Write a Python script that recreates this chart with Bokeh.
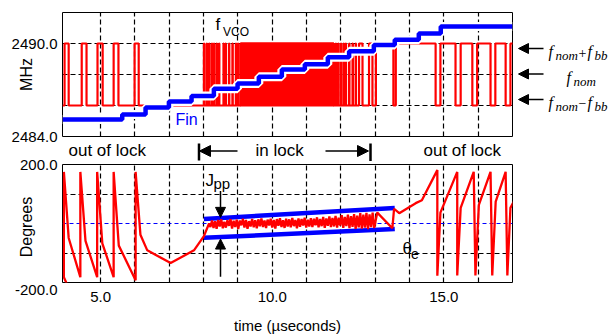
import math
import numpy as np
from bokeh.plotting import figure
from bokeh.layouts import column, row
from bokeh.models import FixedTicker, PrintfTickFormatter, Label, Arrow, NormalHead, Span, Range1d
from bokeh.embed import file_html
from bokeh.resources import INLINE

# ---------------- data ----------------
T_MIN, T_MAX = 3.89, 17.0
MHZ_MIN, MHZ_MAX = 2484.0, 2492.0
DEG_MIN, DEG_MAX = -200.0, 200.0

grid_t = [5, 6, 7, 8, 9, 10, 11, 12, 13, 14, 15, 16]
t_ticks = [5, 10, 15]
mhz_ticks = [2484, 2490]
mhz_grid = [2486, 2488, 2490]
deg_ticks = [-200, 200]
deg_grid = [-100, 100]

# f_vco square wave (high = f_nom + f_bb, low = f_nom - f_bb)
f_low, f_high = 2486.0, 2490.0
pulse_on = [3.95, 4.45, 4.91, 5.38, 5.99,
            8.01, 8.09, 8.16, 8.24, 8.30, 8.38, 8.45, 8.58, 8.64, 8.74, 8.84, 8.94, 9.00,
            9.08,
            11.85, 11.92, 12.00, 12.08, 12.14, 12.24, 12.34, 12.43, 12.53, 12.82,
            13.02, 13.60, 14.90, 15.49, 15.97, 16.50, 16.94]
pulse_off = [4.07, 4.59, 5.06, 5.52, 6.11,
             8.02, 8.10, 8.17, 8.25, 8.31, 8.39, 8.46, 8.59, 8.65, 8.75, 8.85, 8.95, 9.01,
             11.79,
             11.86, 11.93, 12.01, 12.09, 12.15, 12.25, 12.35, 12.44, 12.63, 12.92,
             13.53, 14.76, 15.34, 15.83, 16.36, 16.80, 17.30]
dense_band = [9.08, 11.79]   # toggling so fast that it fills

# Fin staircase
fin_t = [3.89, 5.63, 6.31, 6.99, 7.65, 8.30, 8.99, 9.61, 10.28, 10.95, 11.62,
         12.24, 12.96, 13.57, 14.27, 14.91]
fin_mhz = [2485.10, 2485.42, 2485.87, 2486.26, 2486.62, 2487.08, 2487.42, 2487.85,
           2488.32, 2488.66, 2489.12, 2489.50, 2489.90, 2490.25, 2490.65, 2491.10]

# phase error (degrees)
sawL_t = [4.07, 3.93, 3.93, 4.07, 4.41, 4.41, 4.56, 4.90, 4.90, 5.05, 5.38, 5.38,
          5.53, 6.02, 6.02, 6.16, 6.36, 7.04, 7.72, 8.01, 8.16]
sawL_deg = [-219, -182, 175, -49, -182, 175, -59, -182, 175, -67, -182, 175,
            -75, -192, 175, -38, -91, -134, -91, -43, 0]

jit_t0, jit_dt = 8.20, 0.045
jit_deg = [-12, 10, -15, 8, -18, 12, -10, 14, -16, 6,
           -14, 11, -8, 15, -17, 9, -12, 13, -19, 10,
           -6, 16, -14, 12, -18, 8, -10, 15, -13, 11,
           -16, 14, -9, 17, -12, 10, -15, 13, -7, 16,
           -14, 12, -17, 15, -8, 18, -12, 11, -15, 16,
           -10, 14, -13, 19, -9, 12, -16, 17, -11, 15,
           -7, 20, -14, 13, -10, 18, -12, 16, -6, 21,
           -13, 15, -9, 22, -15, 17, -8, 24, -12, 19,
           -10, 26, -14, 20, -7, 28, -15, 22, -9, 30,
           -16, 25, -11, 32, -18, 27, -13, 35, -17, 30,
           -14, 36, -19, 31, -12, 37, -15]

sawR_t = [13.06, 13.50, 13.55, 13.70, 14.18, 14.36, 14.81, 14.81, 14.90, 15.39, 15.39,
          15.49, 15.87, 15.92, 16.02, 16.36, 16.41, 16.51, 16.80, 16.85, 16.94, 17.18]
sawR_deg = [37, -16, 50, 35, 69, 79, 181, -177, 37, 175, -176,
            53, 175, -176, 63, 175, -176, 74, 175, -176, 53, 106]

band_t = [8.01, 13.57]
band_hi = [15.4, 52.8]
band_lo = [-48.6, -18.6]

# ---------------- layout (page pixels) ----------------
PAGE_W, PAGE_H = 611, 336
AX_W = 61                      # left column holding the y axes
FR_L, FR_R = 62, 512           # both panels' frame, left/right
P1_TOP, P1_BOT, P1_H = 12, 136, 141
STRIP_H = 20
P2_Y0 = P1_H + STRIP_H         # 161
P2_TOP, P2_BOT = 164, 289
P2_H = PAGE_H - P2_Y0
A1_H = 150                     # left axis column split

def X(px):
    return T_MIN + (px - FR_L) * (T_MAX - T_MIN) / (FR_R - FR_L)
def Y1(py):
    return MHZ_MIN + (P1_BOT - py) * (MHZ_MAX - MHZ_MIN) / (P1_BOT - P1_TOP)
def Y2(py):
    return DEG_MIN + (P2_BOT - py) * (DEG_MAX - DEG_MIN) / (P2_BOT - P2_TOP)
def IDX(px):
    return px
def IDY(py):
    return py

SANS = "Liberation Sans"
SERIF = "Liberation Serif"
BASE_FIX = 0.4   # labels land this many font-sizes below the requested baseline

def lab(p, Xf, Yf, text, px, py, size, font=SANS, color="black", align="left",
        style="normal"):
    p.add_layout(Label(x=Xf(px), y=Yf(py - BASE_FIX * size), text=text, text_font=font,
                       text_font_size=f"{size}px", text_color=color,
                       text_align=align, text_baseline="alphabetic",
                       text_font_style=style))

def arrow(p, Xf, Yf, x0, y0, x1, y1, head=10, width=1.5):
    end = NormalHead(size=head, fill_color="black", line_color="black", line_width=1) if head else None
    p.add_layout(Arrow(x_start=Xf(x0), y_start=Yf(y0), x_end=Xf(x1), y_end=Yf(y1),
                       end=end, line_color="black", line_width=width))

def axis_style(ax):
    ax.major_tick_in = 0
    ax.major_tick_out = 0
    ax.minor_tick_line_color = None
    ax.axis_line_color = None
    ax.major_label_text_font = SANS
    ax.major_label_text_font_size = "15px"
    ax.major_label_text_color = "black"
    ax.axis_label_text_font = SANS
    ax.axis_label_text_font_size = "16px"
    ax.axis_label_text_font_style = "normal"
    ax.axis_label_text_color = "black"
    ax.formatter = PrintfTickFormatter(format="%.1f")

def panel_style(p, y_grid):
    p.outline_line_color = "black"
    p.outline_line_width = 1
    p.outline_line_alpha = 1
    p.background_fill_color = "white"
    p.border_fill_color = "white"
    p.yaxis.visible = False
    p.xgrid.ticker = FixedTicker(ticks=grid_t)
    p.ygrid.ticker = FixedTicker(ticks=y_grid)
    for g in (p.xgrid, p.ygrid):
        g.grid_line_color = "black"
        g.grid_line_dash = "5 3"
        g.grid_line_width = 1.2
        g.grid_line_alpha = 1

def axis_fig(h, y_range, top, bottom, ticks, label, label_standoff):
    q = figure(width=AX_W, height=h, x_range=Range1d(0, 1), y_range=y_range,
               x_axis_type=None, output_backend="svg", toolbar_location=None,
               min_border_left=AX_W - 1, min_border_right=0,
               min_border_top=top, min_border_bottom=bottom)
    q.outline_line_color = None
    q.background_fill_color = "white"
    q.border_fill_color = "white"
    q.ygrid.visible = False
    axis_style(q.yaxis[0])
    q.yaxis.ticker = FixedTicker(ticks=ticks)
    q.yaxis.major_label_standoff = 3
    q.yaxis.axis_label = label
    q.yaxis.axis_label_standoff = label_standoff
    return q

def blank(w, h, x0, x1, y0, y1, bl=0, br=0, bt=0, bb=0):
    q = figure(width=w, height=h, x_range=Range1d(x0, x1), y_range=Range1d(y1, y0),
               x_axis_type=None, y_axis_type=None, output_backend="svg",
               toolbar_location=None, min_border_left=bl, min_border_right=br,
               min_border_top=bt, min_border_bottom=bb)
    q.outline_line_color = None
    q.background_fill_color = "white"
    q.border_fill_color = "white"
    return q

# ---------------- top panel ----------------
p1 = figure(width=FR_R + 1 - AX_W, height=P1_H, x_range=Range1d(T_MIN, T_MAX),
            y_range=Range1d(MHZ_MIN, MHZ_MAX),
            output_backend="svg", toolbar_location=None,
            min_border_left=FR_L - AX_W, min_border_right=1,
            min_border_top=P1_TOP, min_border_bottom=P1_H - P1_BOT)
panel_style(p1, mhz_grid)
p1.xaxis.visible = False

sq_t = [T_MIN]
sq_f = [f_low]
for a, b in zip(pulse_on, pulse_off):
    sq_t += [a, a, b, b]
    sq_f += [f_low, f_high, f_high, f_low]
if sq_t[-1] < T_MAX:
    sq_t.append(T_MAX)
    sq_f.append(f_low)

p1.quad(left=[dense_band[0]], right=[dense_band[1]], bottom=[f_low], top=[f_high],
        fill_color="red", line_color="red", line_width=2.2)
p1.line(sq_t, sq_f, line_color="red", line_width=2.2)

st_t = fin_t + [T_MAX]
st_f = fin_mhz + [fin_mhz[-1]]
p1.step(st_t, st_f, mode="after", line_color="white", line_width=9)
p1.step(st_t, st_f, mode="after", line_color="blue", line_width=4.5)

lab(p1, X, Y1, "f", 215, 31, 17)
lab(p1, X, Y1, "VCO", 222.5, 36, 12)
lab(p1, X, Y1, "Fin", 175, 125, 16, color="blue")

# right-hand annotations (frame aligned with the top panel's frame; page pixel coords)
pR = blank(PAGE_W - (FR_R + 1), P1_H, FR_R + 1, PAGE_W, P1_TOP, P1_BOT,
           bt=P1_TOP, bb=P1_H - P1_BOT)
for y_arrow in (48, 73.5, 99):
    arrow(pR, IDX, IDY, 543, y_arrow, 518, y_arrow, head=10, width=1.5)
lab(pR, IDX, IDY, "f", 548, 57, 16, font=SERIF, style="italic")
lab(pR, IDX, IDY, "nom", 555, 60.5, 13, font=SERIF, style="italic")
lab(pR, IDX, IDY, "+", 578, 58, 14, font=SERIF)
lab(pR, IDX, IDY, "f", 587, 57, 16, font=SERIF, style="italic")
lab(pR, IDX, IDY, "bb", 594, 60.5, 13, font=SERIF, style="italic")
lab(pR, IDX, IDY, "f", 566, 83, 16, font=SERIF, style="italic")
lab(pR, IDX, IDY, "nom", 573, 86.5, 13, font=SERIF, style="italic")
lab(pR, IDX, IDY, "f", 548, 108, 16, font=SERIF, style="italic")
lab(pR, IDX, IDY, "nom", 555, 111.5, 13, font=SERIF, style="italic")
lab(pR, IDX, IDY, "\u2212", 578, 108, 14, font=SERIF)
lab(pR, IDX, IDY, "f", 587, 108, 16, font=SERIF, style="italic")
lab(pR, IDX, IDY, "bb", 594, 111.5, 13, font=SERIF, style="italic")

# lock annotations strip between the panels (frame aligned with bottom panel's)
pS = blank(PAGE_W - AX_W, STRIP_H, FR_L, FR_R, P1_H, P2_Y0,
           bl=FR_L - AX_W, br=PAGE_W - FR_R)
lab(pS, IDX, IDY, "out of lock", 68, 157, 17)
lab(pS, IDX, IDY, "in lock", 255, 157, 17)
lab(pS, IDX, IDY, "out of lock", 423, 157, 17)
arrow(pS, IDX, IDY, 237, 150.5, 199, 150.5, head=11, width=1.5)
arrow(pS, IDX, IDY, 198.5, 143, 198.5, 160, head=0, width=2.5)
arrow(pS, IDX, IDY, 325, 150.5, 368, 150.5, head=11, width=1.5)
arrow(pS, IDX, IDY, 370, 143, 370, 161, head=0, width=2.5)

# ---------------- bottom panel ----------------
p2 = figure(width=PAGE_W - AX_W, height=P2_H, x_range=p1.x_range,
            y_range=Range1d(DEG_MIN, DEG_MAX),
            output_backend="svg", toolbar_location=None,
            min_border_left=FR_L - AX_W, min_border_right=PAGE_W - FR_R,
            min_border_top=P2_TOP - P2_Y0, min_border_bottom=P2_H - (P2_BOT - P2_Y0))
panel_style(p2, deg_grid)
axis_style(p2.xaxis[0])
p2.xaxis.ticker = FixedTicker(ticks=t_ticks)
p2.xaxis.major_label_standoff = 9
p2.xaxis.axis_label = "time (\u00b5seconds)"
p2.xaxis.axis_label_text_font_size = "15px"
p2.xaxis.axis_label_standoff = 12
p2.add_layout(Span(location=0, dimension="width", line_color="blue",
                   line_dash="4 3", line_width=1, level="underlay"))

jit_t = list(jit_t0 + jit_dt * np.arange(len(jit_deg)))
th_t = sawL_t + jit_t + sawR_t
th_d = sawL_deg + jit_deg + sawR_deg
p2.line(band_t, band_hi, line_color="blue", line_width=4.5)
p2.line(band_t, band_lo, line_color="blue", line_width=4.5)
p2.line(th_t, th_d, line_color="red", line_width=2.3)

lab(p2, X, Y2, "J", 205, 187.5, 17)
lab(p2, X, Y2, "pp", 213, 190.5, 15)
arrow(p2, X, Y2, 220, 192, 220, 220, head=10, width=1.5)
arrow(p2, X, Y2, 220, 283, 220, 243, head=10, width=1.5)
lab(p2, X, Y2, "\u03b8", 402, 260, 17)
lab(p2, X, Y2, "e", 410.5, 264.5, 14)

# ---------------- y axes (left column) ----------------
pA1 = axis_fig(A1_H, p1.y_range, P1_TOP, A1_H - P1_BOT, mhz_ticks, "MHz", -26)
pA2 = axis_fig(PAGE_H - A1_H, p2.y_range, P2_TOP - A1_H, PAGE_H - P2_BOT,
               deg_ticks, "Degrees", -23)

layout = row(column(pA1, pA2, spacing=0),
             column(row(p1, pR, spacing=0), pS, p2, spacing=0),
             spacing=0)
open("out.html", "w").write(file_html(layout, INLINE))
